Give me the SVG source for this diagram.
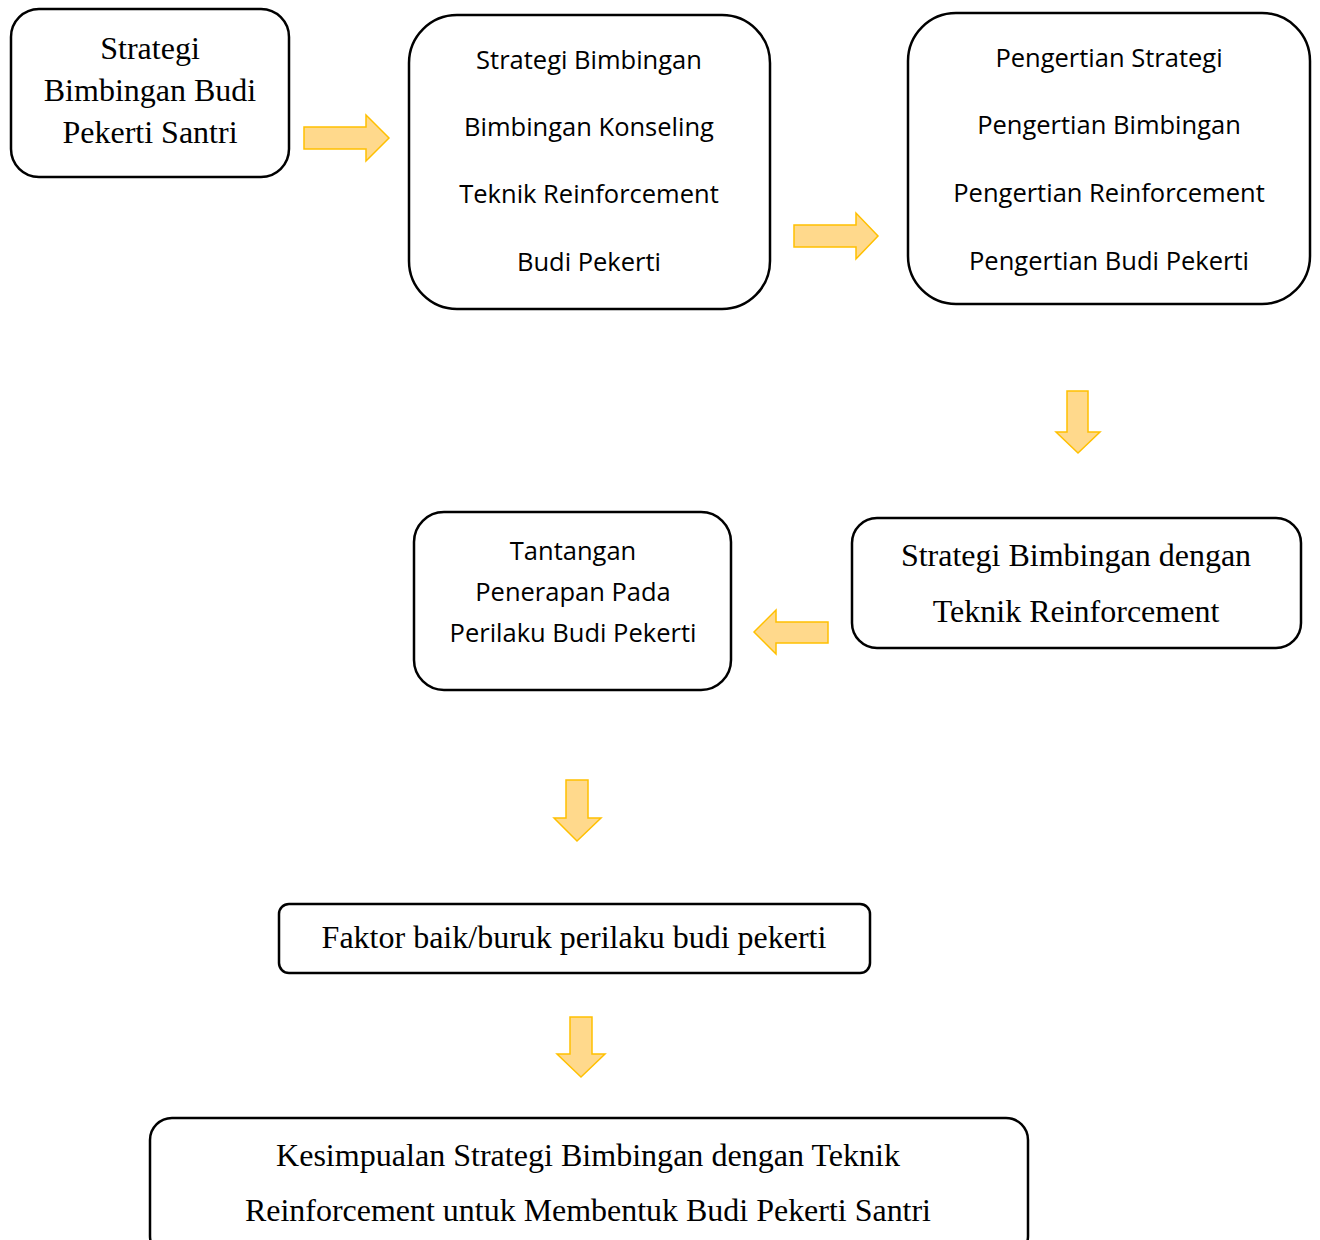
<svg xmlns="http://www.w3.org/2000/svg" width="1320" height="1240" viewBox="0 0 1320 1240">
<style>
.box{fill:#fff;stroke:#000;stroke-width:2.5}
.serif{font-family:"Liberation Serif","Times New Roman",serif;fill:#000;text-anchor:middle;font-size:32px}
.sans{font-family:"Open Sans","Noto Sans",sans-serif;fill:#000;text-anchor:middle;font-size:25.5px}
.arr{fill:#FFD98C;stroke:#FFC000;stroke-width:1.5;stroke-linejoin:miter}
</style>
<rect width="1320" height="1240" fill="#fff"/>
<g id="connectors">
<polygon class="arr" points="304,127 366,127 366,115 389,138 366,161 366,149 304,149"/>
<polygon class="arr" points="794,225 856,225 856,213 878,236 856,259 856,247 794,247"/>
<polygon class="arr" points="1067,391 1088,391 1088,432 1100,432 1078,453 1056,432 1067,432"/>
<polygon class="arr" points="828,622 776,622 776,610 754,632 776,654 776,643 828,643"/>
<polygon class="arr" points="566,780 588,780 588,818 601,818 577,841 554,818 566,818"/>
<polygon class="arr" points="570,1017 592,1017 592,1054 605,1054 581,1077 557,1054 570,1054"/>
</g>
<g id="n1">
<rect class="box" x="11" y="9" width="278" height="168" rx="28"/>
<text class="serif" x="150" y="59">Strategi</text>
<text class="serif" x="150" y="101">Bimbingan Budi</text>
<text class="serif" x="150" y="143">Pekerti Santri</text>
</g>
<g id="n2">
<rect class="box" x="409" y="15" width="361" height="294" rx="48"/>
<text class="sans" x="589" y="69">Strategi Bimbingan</text>
<text class="sans" x="589" y="136">Bimbingan Konseling</text>
<text class="sans" x="589" y="203">Teknik Reinforcement</text>
<text class="sans" x="589" y="271">Budi Pekerti</text>
</g>
<g id="n3">
<rect class="box" x="908" y="13" width="402" height="291" rx="48"/>
<text class="sans" x="1109" y="67">Pengertian Strategi</text>
<text class="sans" x="1109" y="134">Pengertian Bimbingan</text>
<text class="sans" x="1109" y="202">Pengertian Reinforcement</text>
<text class="sans" x="1109" y="270">Pengertian Budi Pekerti</text>
</g>
<g id="n4">
<rect class="box" x="852" y="518" width="449" height="130" rx="25"/>
<text class="serif" x="1076" y="566">Strategi Bimbingan dengan</text>
<text class="serif" x="1076" y="622">Teknik Reinforcement</text>
</g>
<g id="n5">
<rect class="box" x="414" y="512" width="317" height="178" rx="30"/>
<text class="sans" x="573" y="560">Tantangan</text>
<text class="sans" x="573" y="601">Penerapan Pada</text>
<text class="sans" x="573" y="642">Perilaku Budi Pekerti</text>
</g>
<g id="n6">
<rect class="box" x="279" y="904" width="591" height="69" rx="10"/>
<text class="serif" x="574" y="948">Faktor baik/buruk perilaku budi pekerti</text>
</g>
<g id="n7">
<rect class="box" x="150" y="1118" width="878" height="140" rx="22"/>
<text class="serif" x="588" y="1166" textLength="624" lengthAdjust="spacingAndGlyphs">Kesimpualan Strategi Bimbingan dengan Teknik</text>
<text class="serif" x="588" y="1221" textLength="686" lengthAdjust="spacingAndGlyphs">Reinforcement untuk Membentuk Budi Pekerti Santri</text>
</g>
</svg>
